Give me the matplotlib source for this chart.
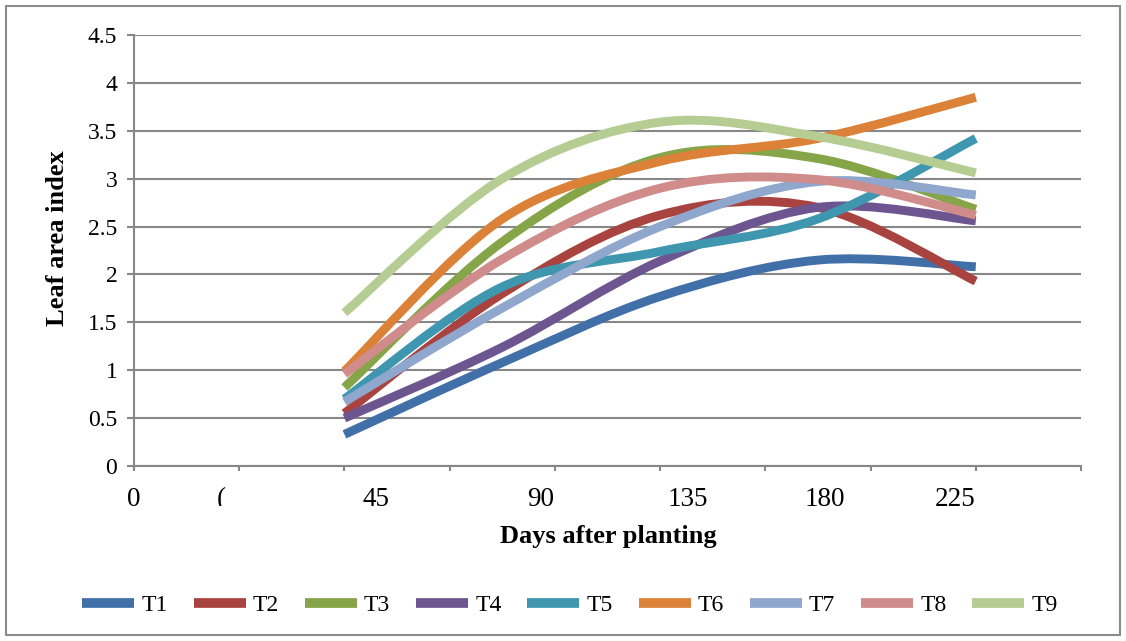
import numpy as np
import matplotlib
matplotlib.use("Agg")
import matplotlib.pyplot as plt
from matplotlib.path import Path
from matplotlib.patches import PathPatch, Rectangle
from matplotlib.lines import Line2D
from matplotlib.transforms import Bbox, TransformedBbox

plt.rcParams['font.family'] = ['Liberation Serif', 'DejaVu Serif']

# leaf area index per treatment, sampled at these days after planting
days = [45, 90, 135, 180, 225]
treatments = ['T1', 'T2', 'T3', 'T4', 'T5', 'T6', 'T7', 'T8', 'T9']
T1 = [0.33, 1.08, 1.77, 2.15, 2.08]
T2 = [0.55, 1.80, 2.62, 2.70, 1.93]
T3 = [0.82, 2.34, 3.22, 3.21, 2.68]
T4 = [0.50, 1.24, 2.14, 2.70, 2.56]
T5 = [0.70, 1.87, 2.24, 2.58, 3.42]
T6 = [0.99, 2.58, 3.18, 3.42, 3.85]
T7 = [0.67, 1.65, 2.50, 2.97, 2.83]
T8 = [0.96, 2.16, 2.90, 2.99, 2.62]
T9 = [1.60, 3.00, 3.59, 3.44, 3.06]
series = [T1, T2, T3, T4, T5, T6, T7, T8, T9]
colors = ['#4170A9', '#A8433F', '#86A448', '#6D5590', '#3E97AF',
          '#DC8138', '#8FA6CD', '#D08C8B', '#B5CC93']

# hand-placed day labels under the axis
day_labels = ['0', '(', '45', '90', '135', '180', '225']
day_label_pos = [-15, 10, 54, 101, 143, 182, 219]


def smooth_path(xs, ys):
    # Catmull-Rom style cubic Bezier through the points
    pts = np.column_stack([xs, ys]).astype(float)
    n = len(pts)
    verts = [pts[0]]
    codes = [Path.MOVETO]
    for i in range(n - 1):
        p0 = pts[max(i - 1, 0)]
        p1 = pts[i]
        p2 = pts[i + 1]
        p3 = pts[min(i + 2, n - 1)]
        c1 = p1 + (p2 - p0) / 6.0
        c2 = p2 - (p3 - p1) / 6.0
        verts += [c1, c2, p2]
        codes += [Path.CURVE4] * 3
    return Path(verts, codes)


fig = plt.figure(figsize=(11.26, 6.41), dpi=100)
ax = fig.add_axes([134 / 1126, 1 - 466 / 641, 947 / 1126, 431 / 641])

grid_c = '#878787'
for vals, c in zip(series, colors):
    patch = PathPatch(smooth_path(days, vals), facecolor='none', edgecolor=c,
                      lw=6.4, capstyle='butt', joinstyle='round', zorder=3)
    ax.add_patch(patch)

ax.set_xlim(-15, 255)
ax.set_ylim(0, 4.5)
ax.set_xticks(np.arange(-15, 256, 30))
ax.set_xticklabels([])
ax.set_yticks(np.arange(0, 4.51, 0.5))
ax.set_yticklabels(['%g' % v for v in np.arange(0, 4.51, 0.5)], fontsize=17)
ax.yaxis.grid(True, color=grid_c, lw=1.5)
ax.set_axisbelow(True)
for side in ['top', 'right']:
    ax.spines[side].set_visible(False)
for side in ['left', 'bottom']:
    ax.spines[side].set_color(grid_c)
    ax.spines[side].set_linewidth(1.5)
ax.tick_params(axis='y', length=5, width=1.5, color=grid_c, pad=7)
ax.tick_params(axis='x', length=3.5, width=1.5, color=grid_c)

clip = TransformedBbox(Bbox([[0, 1 - 506 / 641], [1, 1]]), fig.transFigure)
for lab, pos in zip(day_labels, day_label_pos):
    t = ax.text(pos, (466 - 506) / 431, lab, transform=ax.get_xaxis_transform(),
                ha='center', va='baseline', fontsize=19.5, clip_on=True)
    t.set_clip_box(clip)

fig.text(608 / 1126, 1 - 543 / 641, 'Days after planting', ha='center',
         va='baseline', fontsize=19, fontweight='bold')
fig.text(58 / 1126, 1 - 238 / 641, 'Leaf area index', ha='center',
         va='center', rotation=90, fontsize=19, fontweight='bold')

handles = [Line2D([], [], color=c, lw=7, solid_capstyle='butt') for c in colors]
fig.legend(handles, treatments, loc='center', ncol=9, frameon=False,
           bbox_to_anchor=(570 / 1126, 1 - 605 / 641), fontsize=17,
           handlelength=2.2, handletextpad=0.3, columnspacing=1.1)

fig.add_artist(Rectangle((6 / 1126, 6 / 641), 1114 / 1126, 629 / 641,
                         transform=fig.transFigure, fill=False,
                         edgecolor='#8c8c8c', lw=1.5))

fig.savefig('out.png', dpi=100)
